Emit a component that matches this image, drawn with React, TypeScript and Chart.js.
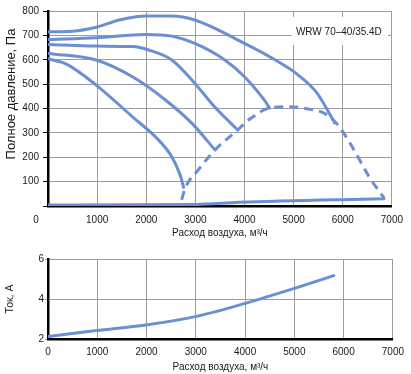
import React, { useEffect, useRef } from "react";
import { Chart, registerables } from "chart.js";

Chart.register(...registerables);

const FONT = "'Liberation Sans', Arial, sans-serif";
const BLUE = "#6a8fd3";
const TEXT = "#1a1a1a";
const GRID = "#9c9c9c";

const flowTicks = [0, 1000, 2000, 3000, 4000, 5000, 6000, 7000];
const pressureTicks = [0, 100, 200, 300, 400, 500, 600, 700, 800];
const currentTicks = [2, 4, 6];

const curve1Flow = [0, 500, 980, 1450, 1985, 2520, 2990, 4000, 4600, 5070, 5470, 5835];
const curve1Pressure = [715, 717, 733, 763, 780, 780, 763, 667, 602, 541, 465, 341];

const curve2Flow = [0, 980, 1985, 2520, 2990, 3600, 4000, 4400, 4510];
const curve2Pressure = [683, 690, 704, 697, 667, 599, 530, 435, 402];

const curve3Flow = [0, 980, 1720, 2050, 2520, 2990, 3390, 3860];
const curve3Pressure = [663, 656, 654, 640, 599, 503, 407, 312];

const curve4Flow = [0, 980, 1720, 2390, 2930, 3400];
const curve4Pressure = [626, 599, 530, 435, 339, 230];

const curve5Flow = [0, 375, 980, 1720, 2250, 2520, 2690, 2760];
const curve5Pressure = [604, 582, 496, 366, 271, 202, 127, 77];

const limitFlow = [2720, 2790, 3060, 3400, 3860, 4130, 4510, 4930, 5400, 5610, 5800, 5975, 6200, 6540, 6840];
const limitPressure = [25, 72, 148, 230, 312, 360, 402, 407, 394, 382, 355, 312, 240, 119, 33];

const baseFlow = [0, 3000, 3900, 6840];
const basePressure = [4, 6, 15, 30];

const currentFlow = [0, 980, 1985, 2990, 4000, 5000, 5800];
const currentAmps = [2.12, 2.42, 2.7, 3.12, 3.78, 4.53, 5.17];

const modelLabel = "WRW 70–40/35.4D";
const pressureTitle = "Полное давление, Па";
const flowTitle = "Расход воздуха, м³/ч";
const currentTitle = "Ток, А";

const pts = (xs: number[], ys: number[]) => xs.map((x, i) => ({ x, y: ys[i] }));

const lineDs = (xs: number[], ys: number[], dashed = false) => ({
  data: pts(xs, ys),
  borderColor: BLUE,
  borderWidth: 3,
  pointRadius: 0,
  fill: false,
  cubicInterpolationMode: "monotone" as const,
  borderDash: dashed ? [9, 6] : [],
  borderCapStyle: (dashed ? "butt" : "round") as CanvasLineCap,
  borderJoinStyle: "round" as CanvasLineJoin,
});

const topDecor = {
  id: "topDecor",
  beforeDatasetsDraw(chart: any) {
    const { ctx, chartArea: a } = chart;
    ctx.save();
    ctx.fillStyle = "#fff";
    ctx.fillRect(a.right - 100, a.top + 6, 96, 28);
    ctx.fillStyle = TEXT;
    ctx.font = `10px ${FONT}`;
    ctx.textAlign = "left";
    ctx.textBaseline = "middle";
    ctx.fillText(modelLabel, a.right - 96, a.top + 21);
    ctx.restore();
  },
  afterDraw(chart: any) {
    const { ctx, chartArea: a } = chart;
    ctx.save();
    ctx.fillStyle = TEXT;
    ctx.font = `10px ${FONT}`;
    ctx.textAlign = "center";
    ctx.textBaseline = "middle";
    ctx.fillText(String(flowTicks[0]), a.left - 12, a.bottom + 14);
    ctx.translate(11, 94);
    ctx.rotate(-Math.PI / 2);
    ctx.font = `13px ${FONT}`;
    ctx.fillText(pressureTitle, 0, 0);
    ctx.restore();
  },
};

export default function App() {
  const topRef = useRef<HTMLCanvasElement>(null);
  const botRef = useRef<HTMLCanvasElement>(null);

  useEffect(() => {
    const tickFont = { family: FONT, size: 10 };
    const top = new Chart(topRef.current!, {
      type: "line",
      data: {
        datasets: [
          lineDs(curve1Flow, curve1Pressure),
          lineDs(curve2Flow, curve2Pressure),
          lineDs(curve3Flow, curve3Pressure),
          lineDs(curve4Flow, curve4Pressure),
          lineDs(curve5Flow, curve5Pressure),
          lineDs(limitFlow, limitPressure, true),
          lineDs(baseFlow, basePressure),
        ] as any,
      },
      options: {
        responsive: false,
        animation: false,
        layout: { padding: { top: 11, right: 15, left: 0, bottom: 0 } },
        plugins: { legend: { display: false }, tooltip: { enabled: false } },
        scales: {
          x: {
            type: "linear",
            min: 0,
            max: 7000,
            afterBuildTicks: (s: any) => {
              s.ticks = flowTicks.map((v) => ({ value: v }));
            },
            afterFit: (s: any) => {
              s.height = 39;
            },
            ticks: {
              font: tickFont,
              color: TEXT,
              padding: 8,
              maxRotation: 0,
              autoSkip: false,
              callback: (v: any) => (v === 0 ? "" : String(v)),
            },
            grid: { color: GRID, lineWidth: 1, drawTicks: false },
            border: { color: "#000", width: 2.5 },
            title: {
              display: true,
              text: flowTitle,
              font: { family: FONT, size: 10 },
              color: TEXT,
              padding: { top: 0, bottom: 6 },
            },
          },
          y: {
            type: "linear",
            min: 0,
            max: 800,
            afterBuildTicks: (s: any) => {
              s.ticks = pressureTicks.map((v) => ({ value: v }));
            },
            afterFit: (s: any) => {
              s.width = 48;
            },
            ticks: {
              font: tickFont,
              color: TEXT,
              padding: 4,
              callback: (v: any) => (v === 0 ? "" : String(v)),
            },
            grid: { color: GRID, lineWidth: 1, tickLength: 5, tickColor: "#000" },
            border: { color: "#000", width: 2.5 },
          },
        },
      } as any,
      plugins: [topDecor],
    });

    const bot = new Chart(botRef.current!, {
      type: "line",
      data: { datasets: [lineDs(currentFlow, currentAmps)] as any },
      options: {
        responsive: false,
        animation: false,
        layout: { padding: { top: 14, right: 15, left: 0, bottom: 0 } },
        plugins: { legend: { display: false }, tooltip: { enabled: false } },
        scales: {
          x: {
            type: "linear",
            min: 0,
            max: 7000,
            afterBuildTicks: (s: any) => {
              s.ticks = flowTicks.map((v) => ({ value: v }));
            },
            afterFit: (s: any) => {
              s.height = 35;
            },
            ticks: {
              font: tickFont,
              color: TEXT,
              padding: 7,
              maxRotation: 0,
              autoSkip: false,
              callback: (v: any) => String(v),
            },
            grid: { color: GRID, lineWidth: 1, drawTicks: false },
            border: { color: "#000", width: 2.5 },
            title: {
              display: true,
              text: flowTitle,
              font: { family: FONT, size: 10 },
              color: TEXT,
              padding: { top: 0, bottom: 1 },
            },
          },
          y: {
            type: "linear",
            min: 2,
            max: 6,
            afterBuildTicks: (s: any) => {
              s.ticks = currentTicks.map((v) => ({ value: v }));
            },
            afterFit: (s: any) => {
              s.width = 48;
            },
            ticks: { font: tickFont, color: TEXT, padding: 1, callback: (v: any) => String(v) },
            grid: { color: GRID, lineWidth: 1, tickLength: 3, tickColor: GRID },
            border: { color: "#000", width: 2.5 },
            title: {
              display: true,
              text: currentTitle,
              font: { family: FONT, size: 10.5 },
              color: TEXT,
              padding: { top: 4, bottom: 0 },
            },
          },
        },
      } as any,
    });

    return () => {
      top.destroy();
      bot.destroy();
    };
  }, []);

  return (
    <div style={{ position: "absolute", left: 0, top: 0, width: 411, height: 374, background: "#fff" }}>
      <canvas ref={topRef} width={411} height={245} style={{ position: "absolute", left: 0, top: 0, display: "block" }} />
      <canvas ref={botRef} width={411} height={129} style={{ position: "absolute", left: 0, top: 245, display: "block" }} />
    </div>
  );
}
